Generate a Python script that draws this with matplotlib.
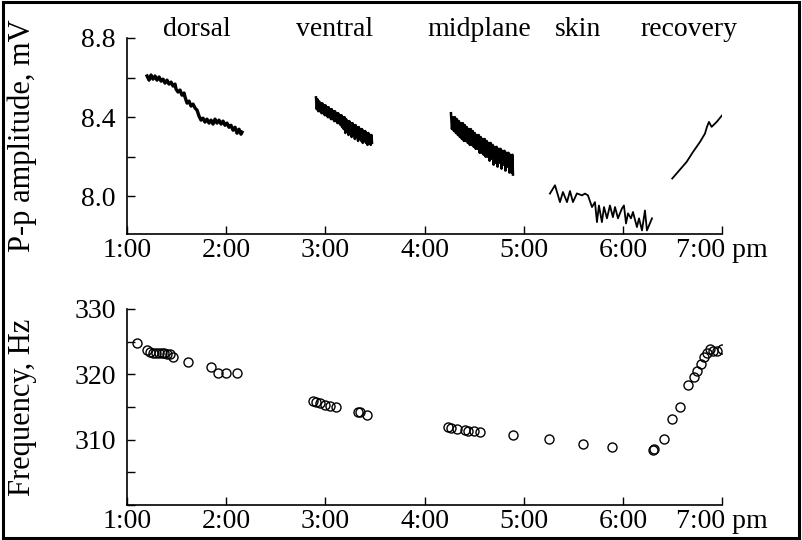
import matplotlib
matplotlib.use("Agg")
import matplotlib.pyplot as plt
from matplotlib.patches import Rectangle
from matplotlib.ticker import MultipleLocator

plt.rcParams['font.family'] = ['Liberation Serif', 'DejaVu Serif']
plt.rcParams['font.size'] = 20

# --- amplitude traces (time in hours, p-p amplitude in mV) ---
dorsal_t = [1.202, 1.222, 1.242, 1.262, 1.282, 1.302, 1.323, 1.343, 1.363, 1.383,
            1.403, 1.423, 1.444, 1.464, 1.484, 1.494, 1.514, 1.534, 1.554, 1.575,
            1.585, 1.605, 1.625, 1.645, 1.665, 1.686, 1.706, 1.726, 1.746, 1.766,
            1.786, 1.806, 1.827, 1.847, 1.867, 1.887, 1.907, 1.927, 1.948, 1.968,
            1.988, 2.008, 2.028, 2.048, 2.069, 2.089, 2.109, 2.129, 2.149, 2.159]
dorsal_v = [8.608, 8.587, 8.613, 8.592, 8.608, 8.587, 8.603, 8.582, 8.592, 8.572,
            8.587, 8.567, 8.577, 8.557, 8.567, 8.542, 8.527, 8.537, 8.511, 8.522,
            8.501, 8.471, 8.481, 8.456, 8.466, 8.446, 8.435, 8.405, 8.385, 8.395,
            8.375, 8.390, 8.370, 8.385, 8.365, 8.390, 8.370, 8.385, 8.365, 8.380,
            8.359, 8.370, 8.349, 8.359, 8.334, 8.349, 8.319, 8.339, 8.314, 8.324]

ventral_t = [2.905, 2.913, 2.921, 2.929, 2.937, 2.945, 2.953, 2.961, 2.969, 2.977,
             2.985, 2.993, 3.001, 3.009, 3.017, 3.025, 3.033, 3.041, 3.049, 3.057,
             3.065, 3.073, 3.081, 3.089, 3.097, 3.105, 3.113, 3.121, 3.129, 3.137,
             3.145, 3.153, 3.161, 3.169, 3.177, 3.185, 3.193, 3.201, 3.209, 3.217,
             3.225, 3.233, 3.241, 3.249, 3.257, 3.265, 3.273, 3.281, 3.289, 3.297,
             3.305, 3.313, 3.321, 3.329, 3.337, 3.345, 3.353, 3.361, 3.369, 3.377,
             3.385, 3.393, 3.401, 3.409, 3.417, 3.425, 3.433, 3.441, 3.449, 3.457,
             3.465, 3.470]
ventral_v = [8.50, 8.44, 8.49, 8.43, 8.48, 8.43, 8.47, 8.42, 8.47, 8.42,
             8.46, 8.41, 8.46, 8.41, 8.45, 8.40, 8.45, 8.40, 8.44, 8.39,
             8.44, 8.39, 8.43, 8.38, 8.43, 8.38, 8.42, 8.37, 8.42, 8.37,
             8.41, 8.36, 8.41, 8.35, 8.40, 8.34, 8.40, 8.32, 8.39, 8.33,
             8.38, 8.31, 8.38, 8.32, 8.37, 8.30, 8.37, 8.31, 8.36, 8.29,
             8.36, 8.30, 8.35, 8.28, 8.35, 8.29, 8.34, 8.28, 8.34, 8.27,
             8.33, 8.28, 8.33, 8.27, 8.32, 8.26, 8.32, 8.27, 8.31, 8.26,
             8.31, 8.27]

midplane_t = [4.266, 4.276, 4.286, 4.296, 4.306, 4.316, 4.326, 4.336, 4.346, 4.356,
              4.366, 4.376, 4.386, 4.396, 4.406, 4.416, 4.426, 4.436, 4.446, 4.456,
              4.466, 4.476, 4.486, 4.496, 4.506, 4.516, 4.526, 4.536, 4.546, 4.556,
              4.566, 4.576, 4.586, 4.596, 4.606, 4.616, 4.626, 4.636, 4.646, 4.656,
              4.666, 4.676, 4.686, 4.696, 4.706, 4.716, 4.726, 4.736, 4.746, 4.756,
              4.766, 4.776, 4.786, 4.796, 4.806, 4.816, 4.826, 4.836, 4.846, 4.856,
              4.866, 4.876, 4.886, 4.891]
midplane_v = [8.42, 8.34, 8.40, 8.33, 8.40, 8.32, 8.39, 8.31, 8.38, 8.30,
              8.37, 8.29, 8.37, 8.28, 8.36, 8.28, 8.35, 8.27, 8.34, 8.26,
              8.34, 8.26, 8.33, 8.25, 8.32, 8.24, 8.31, 8.24, 8.31, 8.22,
              8.30, 8.22, 8.29, 8.21, 8.29, 8.20, 8.28, 8.20, 8.27, 8.18,
              8.27, 8.19, 8.26, 8.16, 8.25, 8.17, 8.25, 8.15, 8.24, 8.17,
              8.24, 8.14, 8.23, 8.16, 8.23, 8.13, 8.22, 8.15, 8.22, 8.12,
              8.21, 8.12, 8.21, 8.11]

skin_t = [5.264, 5.315, 5.365, 5.395, 5.436, 5.466, 5.496, 5.536, 5.587, 5.617,
          5.647, 5.688, 5.718, 5.738, 5.758, 5.788, 5.809, 5.839, 5.869, 5.899,
          5.920, 5.950, 5.990, 6.010, 6.031, 6.051, 6.081, 6.101, 6.141, 6.162,
          6.192, 6.222, 6.242, 6.293]
skin_v = [8.014, 8.056, 7.971, 8.022, 7.971, 8.027, 7.971, 8.015, 8.005, 8.014,
          8.005, 7.946, 7.971, 7.870, 7.954, 7.870, 7.946, 7.889, 7.954, 7.895,
          7.946, 7.889, 7.939, 7.954, 7.863, 7.914, 7.889, 7.921, 7.845, 7.889,
          7.828, 7.929, 7.828, 7.889]

recovery_t = [6.497, 6.642, 6.706, 6.777, 6.827, 6.847, 6.867, 6.894, 6.945, 7.001]
recovery_v = [8.090, 8.174, 8.224, 8.275, 8.317, 8.351, 8.376, 8.351, 8.376, 8.410]

# (t, v, line width) for each recording stage
segments = [(dorsal_t, dorsal_v, 2.4), (ventral_t, ventral_v, 1.8),
            (midplane_t, midplane_v, 1.8), (skin_t, skin_v, 1.3),
            (recovery_t, recovery_v, 1.3)]

stage_names = ['dorsal', 'ventral', 'midplane', 'skin', 'recovery']
stage_x = [1.70, 3.09, 4.55, 5.55, 6.67]

# --- frequency samples ---
freq_t = [1.098, 1.199, 1.232, 1.259, 1.289, 1.320, 1.350, 1.376, 1.406, 1.433,
          1.467, 1.612, 1.844, 1.920, 1.995, 2.106,
          2.878, 2.902, 2.946, 2.996, 3.047, 3.104, 3.332, 3.349, 3.416,
          4.239, 4.266, 4.324, 4.407, 4.441, 4.501, 4.558, 4.894,
          5.254, 5.600, 5.886, 6.305, 6.316,
          6.416, 6.491, 6.575, 6.658, 6.716, 6.746, 6.786, 6.817, 6.847, 6.877,
          6.907, 6.948, 6.998]
freq_hz = [324.80, 323.68, 323.44, 323.29, 323.29, 323.23, 323.23, 323.18, 323.08, 323.14,
           322.68, 321.92, 321.11, 320.26, 320.26, 320.15,
           315.91, 315.80, 315.61, 315.30, 315.11, 315.00, 314.29, 314.20, 313.83,
           311.92, 311.82, 311.67, 311.52, 311.36, 311.26, 311.17, 310.76,
           310.05, 309.29, 308.89, 308.38, 308.48,
           310.15, 313.18, 314.95, 318.33, 319.55, 320.45, 321.50, 322.60, 323.30, 323.80,
           323.50, 323.60, 323.90]

hour_ticks = [1, 2, 3, 4, 5, 6, 7]
hour_labels = ['1:00', '2:00', '3:00', '4:00', '5:00', '6:00', '7:00 pm']

fig = plt.figure(figsize=(8.02, 5.4), dpi=100)
ax1 = fig.add_axes([0.1584, 0.5667, 0.742, 0.3630])
ax2 = fig.add_axes([0.1584, 0.0650, 0.742, 0.3630])

for t, v, lw in segments:
    ax1.plot(t, v, color='black', lw=lw)

for name, x in zip(stage_names, stage_x):
    ax1.text(x, 1.045, name, transform=ax1.get_xaxis_transform(),
             ha='center', va='center', fontsize=20, clip_on=False)

ax1.set_ylim(7.81, 8.8)
ax1.set_yticks([8.0, 8.4, 8.8])
ax1.set_yticklabels(['8.0', '8.4', '8.8'])
ax1.yaxis.set_minor_locator(MultipleLocator(0.2))
ax1.set_ylabel('P-p amplitude, mV', fontsize=22)

ax2.plot(freq_t, freq_hz, 'o', mfc='none', mec='black', ms=6.5, mew=1.0)
ax2.set_ylim(300, 330)
ax2.set_yticks([310, 320, 330])
ax2.yaxis.set_minor_locator(MultipleLocator(5))
ax2.set_ylabel('Frequency, Hz', fontsize=22)

for ax in (ax1, ax2):
    ax.set_xlim(1, 7)
    ax.set_xticks(hour_ticks)
    ax.set_xticklabels(hour_labels)
    ax.spines['top'].set_visible(False)
    ax.spines['right'].set_visible(False)
    ax.spines['left'].set_linewidth(1.2)
    ax.spines['bottom'].set_linewidth(1.2)
    ax.tick_params(which='both', direction='in', width=1.0, length=6)
    ax.tick_params(axis='x', pad=3)
    ax.tick_params(axis='y', pad=8)
    ax.yaxis.set_label_coords(-0.151, 0.5)

fig.patches.append(Rectangle((0.004, 0.004), 0.992, 0.992, transform=fig.transFigure,
                             fill=False, edgecolor='black', lw=2.2))

fig.savefig('out.png', dpi=100)
